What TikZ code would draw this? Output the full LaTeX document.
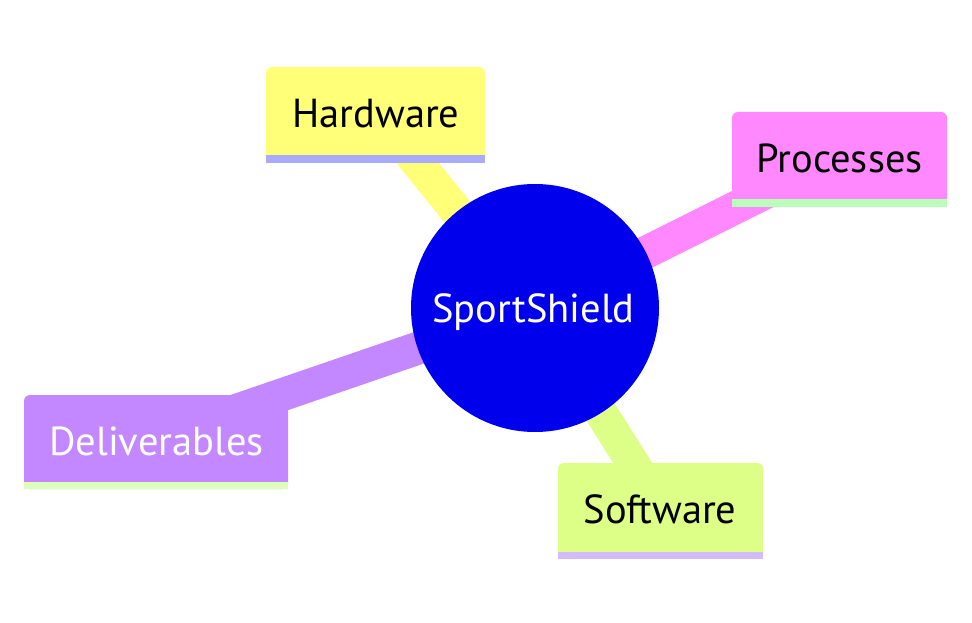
\documentclass[tikz,border=0pt]{standalone}
\usepackage{fontspec}
\setmainfont{PT Sans}
\pgfdeclarelayer{bg}
\pgfsetlayers{bg,main}
\definecolor{rootblue}{RGB}{0,0,236}
\definecolor{hwfill}{RGB}{255,255,120}
\definecolor{hwline}{RGB}{170,170,255}
\definecolor{prfill}{RGB}{255,136,255}
\definecolor{prline}{RGB}{185,255,185}
\definecolor{dlfill}{RGB}{195,136,255}
\definecolor{dlline}{RGB}{221,255,187}
\definecolor{swfill}{RGB}{221,255,136}
\definecolor{swline}{RGB}{210,187,255}
\tikzset{
  box/.style={rectangle, rounded corners=6pt, inner sep=0pt, draw=none},
  lbl/.style={inner sep=0pt, anchor=base, font=\fontsize{40.5}{44}\selectfont},
  edgeline/.style={line width=33pt},
}
\begin{document}
\begin{tikzpicture}[x=1pt,y=-1pt]
\useasboundingbox (0,0) rectangle (972,623);
% root
\node[circle, fill=rootblue, minimum size=248pt, inner sep=0pt] (root) at (535,308) {};
\node[lbl, text=white] (roott) at (533.5,322) {SportShield};
% Hardware
\node[box, fill=hwfill, minimum width=219pt, minimum height=96pt] (hw) at (375.5,115) {};
\fill[hwline] (hw.south west) rectangle ([yshift=8pt]hw.south east);
\node[lbl] (hwt) at (376,128) {Hardware};
% Processes
\node[box, fill=prfill, minimum width=215pt, minimum height=95pt] (pr) at (839.5,159.5) {};
\fill[prline] (pr.south west) rectangle ([yshift=8pt]pr.south east);
\node[lbl] (prt) at (839.5,172) {Processes};
% Deliverables
\node[box, fill=dlfill, minimum width=264pt, minimum height=94pt] (dl) at (156,442) {};
\fill[dlline] (dl.south west) rectangle ([yshift=7pt]dl.south east);
\node[lbl, text=white] (dlt) at (156.5,455) {Deliverables};
% Software
\node[box, fill=swfill, minimum width=205pt, minimum height=96pt] (sw) at (660.5,511) {};
\fill[swline] (sw.south west) rectangle ([yshift=7pt]sw.south east);
\node[lbl] (swt) at (660,523) {Software};
% edges
\begin{pgfonlayer}{bg}
\draw[edgeline, hwfill] (root.center) -- ([yshift=4pt]hw.center);
\draw[edgeline, prfill] (root.center) -- ([yshift=4pt]pr.center);
\draw[edgeline, dlfill] (root.center) -- ([yshift=4pt]dl.center);
\draw[edgeline, swfill] (root.center) -- ([yshift=4pt]sw.center);
\end{pgfonlayer}
\end{tikzpicture}
\end{document}
